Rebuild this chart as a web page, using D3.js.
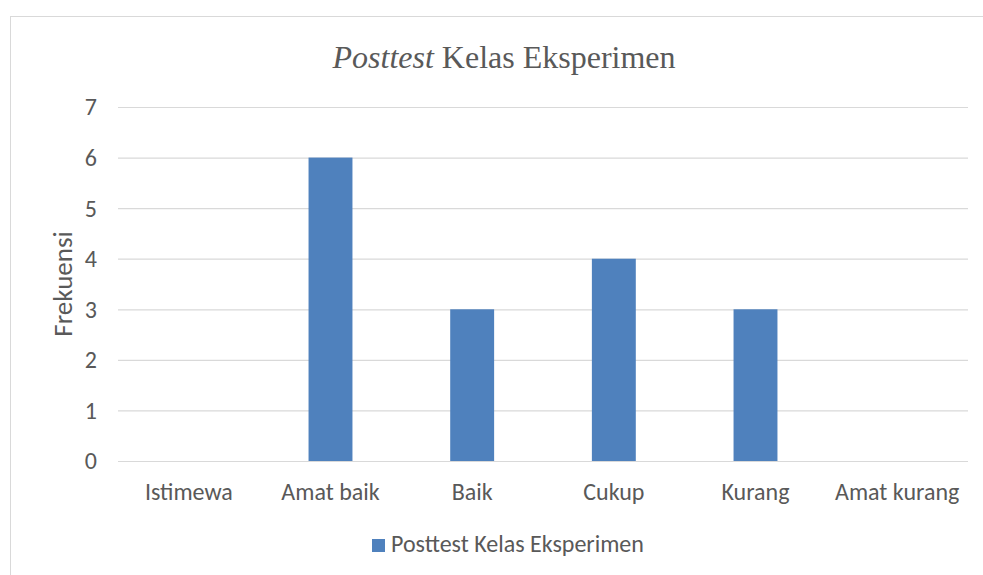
<!DOCTYPE html>
<html lang="en">
<head>
	<meta charset="UTF-8">
	<title>Posttest Kelas Eksperimen</title>
	<style>
		body { margin: 0; background: #fff; }
		text { fill: #595959; }
	</style>
</head>
<body>
	<svg id="chart" width="983" height="575"></svg>
	<script type="text/javascript" src="https://cdn.jsdelivr.net/npm/d3@7"></script>
	<script type="text/javascript">
		// chart data
		var categories = ["Istimewa", "Amat baik", "Baik", "Cukup", "Kurang", "Amat kurang"];
		var values = [0, 6, 3, 4, 3, 0];
		var yTicks = [0, 1, 2, 3, 4, 5, 6, 7];
		var seriesName = "Posttest Kelas Eksperimen";

		var svg = d3.select("#chart");
		var labelFont = "Carlito, 'Liberation Sans Narrow', 'Open Sans', sans-serif";

		// outer chart border (cut off on the right and bottom)
		svg.append("rect")
			.attr("x", 10.5).attr("y", 16.5)
			.attr("width", 1000).attr("height", 600)
			.attr("fill", "none")
			.attr("stroke", "#d9d9d9");

		var x = d3.scaleBand().domain(categories).range([118, 968]).paddingInner(0.69).paddingOuter(0.345);
		var y = d3.scaleLinear().domain([0, 7]).range([461, 107]);

		// gridlines
		svg.append("g").selectAll("line").data(yTicks).enter().append("line")
			.attr("x1", 118).attr("x2", 968)
			.attr("y1", function(d) { return y(d) + 0.5; })
			.attr("y2", function(d) { return y(d) + 0.5; })
			.attr("stroke", "#d9d9d9")
			.attr("stroke-width", 1.2);

		// y axis labels
		var yAxis = d3.axisLeft(y).tickValues(yTicks).tickFormat(d3.format("d")).tickSize(0).tickPadding(0);
		svg.append("g").attr("transform", "translate(97,0)").call(yAxis)
			.call(function(g) { g.select(".domain").remove(); })
			.selectAll("text")
			.attr("fill", "#595959")
			.attr("dy", "0.33em")
			.style("font-family", labelFont)
			.style("font-size", "24px");

		// x axis labels
		var xAxis = d3.axisBottom(x).tickSize(0).tickPadding(0);
		svg.append("g").attr("transform", "translate(0,500)").call(xAxis)
			.call(function(g) { g.select(".domain").remove(); })
			.selectAll("text")
			.attr("fill", "#595959")
			.attr("dy", 0)
			.style("font-family", labelFont)
			.style("font-size", "24px");

		// bars
		svg.append("g").selectAll("rect").data(values).enter().append("rect")
			.attr("x", function(d, i) { return x(categories[i]); })
			.attr("width", x.bandwidth())
			.attr("y", function(d) { return y(d); })
			.attr("height", function(d) { return y(0) - y(d); })
			.attr("fill", "#4f81bd");

		// title
		var title = svg.append("text")
			.attr("x", 504).attr("y", 68)
			.attr("text-anchor", "middle")
			.style("font-family", "'Liberation Serif', 'Times New Roman', serif")
			.style("font-size", "32px");
		title.append("tspan").style("font-style", "italic").text("Posttest");
		title.append("tspan").text(" Kelas Eksperimen");

		// y axis title
		svg.append("text")
			.attr("transform", "translate(72,284) rotate(-90)")
			.attr("text-anchor", "middle")
			.style("font-family", labelFont)
			.style("font-size", "27px")
			.text("Frekuensi");

		// legend
		svg.append("rect")
			.attr("x", 372).attr("y", 539)
			.attr("width", 13).attr("height", 13)
			.attr("fill", "#4f81bd");
		svg.append("text")
			.attr("x", 391).attr("y", 552)
			.style("font-family", labelFont)
			.style("font-size", "24px")
			.text(seriesName);
	</script>
</body>
</html>
